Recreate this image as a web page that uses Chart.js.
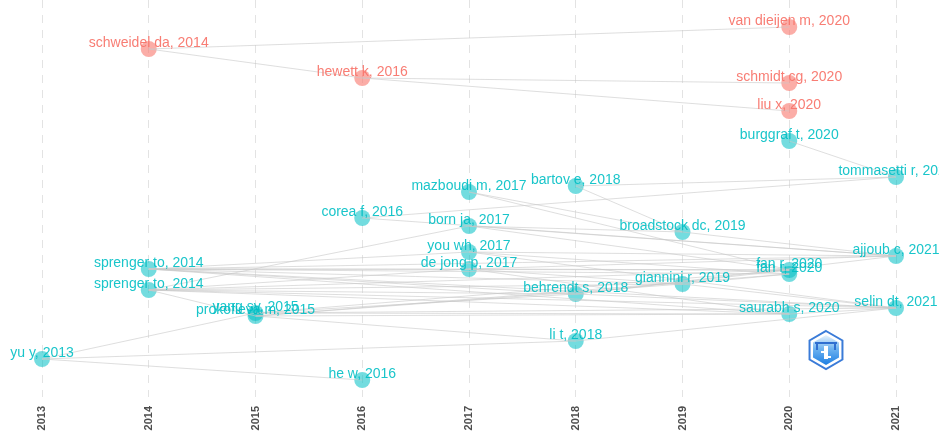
<!DOCTYPE html>
<html>
<head>
<meta charset="utf-8">
<script src="https://cdn.jsdelivr.net/npm/chart.js@4.4.1/dist/chart.umd.min.js"></script>
<style>
  html, body { margin: 0; padding: 0; background: #fff; }
  #wrap { width: 939px; height: 433px; }
</style>
</head>
<body>
<div id="wrap"><canvas id="histograph"></canvas></div>
<script>
// years on the x axis
const years = [2013, 2014, 2015, 2016, 2017, 2018, 2019, 2020, 2021];

// papers (nodes) of the historiograph
const paperLabels = [
  "schweidel da, 2014", "hewett k, 2016", "van dieijen m, 2020", "schmidt cg, 2020",
  "liu x, 2020", "burggraf t, 2020", "tommasetti r, 2021", "mazboudi m, 2017",
  "bartov e, 2018", "corea f, 2016", "born ja, 2017", "broadstock dc, 2019",
  "you wh, 2017", "ajjoub c, 2021", "sprenger to, 2014", "de jong p, 2017",
  "fan r, 2020", "fan r, 2020", "sprenger to, 2014", "giannini r, 2019",
  "behrendt s, 2018", "yang sy, 2015", "prokofieva m, 2015", "saurabh s, 2020",
  "selin dt, 2021", "li t, 2018", "yu y, 2013", "he w, 2016"
];
const paperYears = [
  2014, 2016, 2020, 2020, 2020, 2020, 2021, 2017,
  2018, 2016, 2017, 2019, 2017, 2021, 2014, 2017,
  2020, 2020, 2014, 2019, 2018, 2015, 2015, 2020,
  2021, 2018, 2013, 2016
];
// vertical layout position (0 = top)
const paperRows = [
  49, 78, 27, 83, 111, 141, 177, 192,
  186, 218, 226, 232, 252, 256, 269, 269,
  270, 274, 290, 284, 294, 313, 316, 314,
  308, 341, 359, 380
];
// cluster: 1 = red group, 2 = cyan group
const paperCluster = [
  1, 1, 1, 1, 1, 2, 2, 2,
  2, 2, 2, 2, 2, 2, 2, 2,
  2, 2, 2, 2, 2, 2, 2, 2,
  2, 2, 2, 2
];

// citation links (index of citing-from -> cited-by paper)
const linkFrom = [
  0, 0, 1, 1,
  5, 8, 9, 7, 8, 7,
  14, 14, 14, 14, 14, 14, 14, 14, 14,
  18, 18, 18, 18, 18, 18, 18, 18,
  21, 21, 21, 21, 22, 22, 22, 22,
  26, 26, 26, 25,
  15, 15, 15, 15, 12, 12, 12, 10, 10, 10,
  20, 20, 20, 19, 19, 11, 9, 23
];
const linkTo = [
  2, 1, 3, 4,
  6, 6, 6, 11, 11, 16,
  15, 12, 20, 16, 13, 19, 23, 17, 24,
  10, 20, 19, 24, 16, 23, 22, 15,
  20, 24, 23, 16, 25, 23, 17, 19,
  21, 25, 27, 24,
  13, 19, 16, 23, 17, 24, 13, 13, 11, 16,
  16, 24, 13, 17, 24, 13, 13, 24
];

const clusterPoint = { 1: "rgba(248, 118, 109, 0.6)", 2: "rgba(0, 191, 196, 0.55)" };
const clusterText = { 1: "rgba(248, 118, 109, 0.95)", 2: "rgba(0, 191, 196, 0.9)" };

function buildDatasets() {
  const sets = [];
  linkFrom.forEach((a, i) => {
    const b = linkTo[i];
    sets.push({
      type: "line",
      data: [
        { x: paperYears[a], y: paperRows[a] },
        { x: paperYears[b], y: paperRows[b] },
      ],
      borderColor: "rgba(200, 200, 200, 0.6)",
      borderWidth: 1,
      pointRadius: 0,
      fill: false,
      tension: 0,
      clip: false,
    });
  });
  sets.push({
    type: "scatter",
    data: paperYears.map((yr, i) => ({ x: yr, y: paperRows[i] })),
    pointRadius: 8,
    pointHoverRadius: 8,
    borderWidth: 0,
    clip: false,
    backgroundColor: paperCluster.map((c) => clusterPoint[c]),
  });
  return sets;
}

const nodeLabels = {
  id: "nodeLabels",
  afterDatasetsDraw(chart) {
    const { ctx, scales } = chart;
    ctx.save();
    ctx.font = "14px 'Liberation Sans', Arial, sans-serif";
    ctx.textAlign = "center";
    ctx.textBaseline = "middle";
    paperLabels.forEach((lbl, i) => {
      const px = scales.x.getPixelForValue(paperYears[i]);
      const py = scales.y.getPixelForValue(paperRows[i]);
      ctx.fillStyle = clusterText[paperCluster[i]];
      ctx.fillText(lbl, px, py - 6);
    });
    ctx.restore();
  },
};

// small hexagon watermark in the lower right
function hexPath(ctx, cx, cy, r) {
  ctx.beginPath();
  for (let k = 0; k < 6; k++) {
    const a = Math.PI / 3 * k - Math.PI / 2;
    const x = cx + r * Math.cos(a);
    const y = cy + r * Math.sin(a);
    k === 0 ? ctx.moveTo(x, y) : ctx.lineTo(x, y);
  }
  ctx.closePath();
}

const logoMark = {
  id: "logoMark",
  afterDraw(chart) {
    const { ctx, chartArea } = chart;
    const cx = chartArea.right - 70;
    const cy = chartArea.bottom - 47;
    ctx.save();
    hexPath(ctx, cx, cy, 19);
    ctx.fillStyle = "#ffffff";
    ctx.fill();
    ctx.lineWidth = 2;
    ctx.strokeStyle = "#3a7bd8";
    ctx.stroke();
    hexPath(ctx, cx, cy, 15);
    const g = ctx.createLinearGradient(0, cy - 15, 0, cy + 15);
    g.addColorStop(0, "#e8f3fd");
    g.addColorStop(0.45, "#6fb4f0");
    g.addColorStop(1, "#1e7fe3");
    ctx.fillStyle = g;
    ctx.fill();
    ctx.fillStyle = "#2f6fd0";
    ctx.fillRect(cx - 11, cy - 8, 22, 2);
    ctx.fillRect(cx - 10, cy - 8, 2, 8);
    ctx.fillRect(cx + 8, cy - 8, 2, 8);
    ctx.fillStyle = "#ffffff";
    ctx.fillRect(cx - 2, cy - 4, 4, 13);
    ctx.fillRect(cx - 5, cy + 1, 7, 2);
    ctx.fillRect(cx - 2, cy + 6, 7, 2);
    ctx.restore();
  },
};

document.addEventListener("DOMContentLoaded", () => {
  const ctx = document.getElementById("histograph").getContext("2d");
  new Chart(ctx, {
    type: "scatter",
    data: { datasets: buildDatasets() },
    options: {
      responsive: true,
      maintainAspectRatio: false,
      animation: false,
      layout: { autoPadding: false, padding: { left: 42, right: 43, top: 0, bottom: 0 } },
      plugins: {
        legend: { display: false },
        tooltip: { enabled: false },
      },
      scales: {
        x: {
          type: "linear",
          min: years[0],
          max: years[years.length - 1],
          afterBuildTicks: (axis) => {
            axis.ticks = years.map((v) => ({ value: v }));
          },
          afterFit: (axis) => {
            axis.height = 36;
          },
          ticks: {
            callback: (v) => String(v),
            minRotation: 90,
            maxRotation: 90,
            padding: 9,
            color: "#4d4d4d",
            font: { family: "'Liberation Sans', Arial, sans-serif", size: 11, weight: "bold" },
          },
          grid: { color: "#e3e3e3", lineWidth: 1, drawTicks: false },
          border: { display: false, dash: [8, 7] },
        },
        y: {
          display: false,
          reverse: true,
          min: 0,
          max: 397,
        },
      },
    },
    plugins: [nodeLabels, logoMark],
  });
});
</script>
</body>
</html>
